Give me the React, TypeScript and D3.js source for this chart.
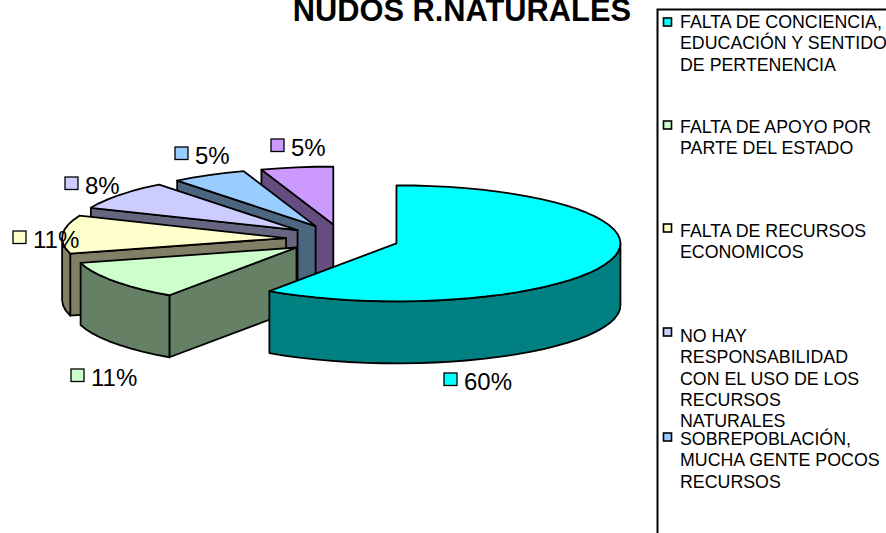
import React from "react";
import * as d3 from "d3";

const sliceValues = [59.6, 11.1, 10.6, 8.1, 5.4, 5.2];
const sliceColors = ["#00FFFF", "#CCFFCC", "#FFFFCC", "#CCCCFF", "#99CCFF", "#CC99FF"];
const labelAnchors: [number, number][] = [[444, 373], [71, 369], [13, 231], [65, 177], [175, 147], [271, 139]];
const legendLines = [
  ["FALTA DE CONCIENCIA,", "EDUCACIÓN Y SENTIDO", "DE PERTENENCIA"],
  ["FALTA DE APOYO POR", "PARTE DEL ESTADO"],
  ["FALTA DE RECURSOS", "ECONOMICOS"],
  ["NO HAY", "RESPONSABILIDAD", "CON EL USO DE LOS", "RECURSOS", "NATURALES"],
  ["SOBREPOBLACIÓN,", "MUCHA GENTE POCOS", "RECURSOS"],
];
const legendTops = [28, 133, 237, 342, 445];
const legendMarkers = [22, 125, 228, 332, 437];
const titleText = "NUDOS R.NATURALES";

const font = "'Liberation Sans', Arial, sans-serif";
const rx = 224, ry = 58, depth = 62, explode = 56.5 / 224;
const x = d3.scaleLinear().domain([-1, 1]).range([342.5 - rx, 342.5 + rx]);
const y = d3.scaleLinear().domain([-1, 1]).range([239 - ry, 239 + ry]);
const lineGen = d3.line<[number, number]>().x(d => d[0]).y(d => d[1]);

const arcs = d3.pie<number>().sort(null).value(d => d)(sliceValues);

function pt(a: number, mid: number, r: number, dz = 0): [number, number] {
  return [
    x(explode * Math.sin(mid) + r * Math.sin(a)),
    y(-explode * Math.cos(mid) - r * Math.cos(a)) + dz,
  ];
}
function edge(a0: number, a1: number, mid: number, dz = 0): [number, number][] {
  const n = Math.max(2, Math.round(Math.abs(a1 - a0) / (Math.PI / 40)));
  return d3.range(n + 1).map(i => pt(a0 + ((a1 - a0) * i) / n, mid, 1, dz));
}

function Slice({ i }: { i: number }) {
  const { startAngle: a0, endAngle: a1 } = arcs[i];
  const mid = (a0 + a1) / 2;
  const dark = d3.rgb(sliceColors[i]);
  const wall = d3.rgb(dark.r * 0.5, dark.g * 0.5, dark.b * 0.5).formatHex();
  const common = { stroke: "#000", strokeWidth: 1.8, strokeLinejoin: "round" as const };
  const apex = pt(0, mid, 0);
  const apexLow = pt(0, mid, 0, depth);
  const parts: React.ReactNode[] = [];
  if (a0 > Math.PI) {
    const s = pt(a0, mid, 1);
    const sLow = pt(a0, mid, 1, depth);
    parts.push(<path key="cut" d={lineGen([apex, s, sLow, apexLow])! + "Z"} fill={wall} {...common} />);
  }
  const fa0 = Math.max(a0, Math.PI / 2);
  const fa1 = Math.min(a1, (3 * Math.PI) / 2);
  if (fa1 > fa0) {
    const top = edge(fa0, fa1, mid);
    const low = edge(fa1, fa0, mid, depth);
    parts.push(<path key="rim" d={lineGen([...top, ...low])! + "Z"} fill={wall} {...common} />);
  }
  parts.push(<path key="top" d={lineGen([apex, ...edge(a0, a1, mid)])! + "Z"} fill={sliceColors[i]} {...common} />);
  return <g>{parts}</g>;
}

export default function App() {
  return (
    <svg width={886} height={533} style={{ position: "absolute", left: 0, top: 0, background: "#fff" }} fontFamily={font}>
      <text x={631} y={21} textAnchor="end" fontSize={30.8} fontWeight="bold" fill="#000">{titleText}</text>
      {d3.range(sliceValues.length - 1, -1, -1).map(i => <Slice key={i} i={i} />)}
      {sliceValues.map((v, i) => {
        const [mx, my] = labelAnchors[i];
        return (
          <g key={i}>
            <rect x={mx} y={my} width={13} height={12.5} fill={sliceColors[i]} stroke="#000" strokeWidth={1.3} />
            <text x={mx + 20} y={my + 17} fontSize={24} fill="#000">{Math.round(v)}%</text>
          </g>
        );
      })}
      <path d="M886,9.5H657.5V533" fill="none" stroke="#000" strokeWidth={2} />
      {legendLines.map((lines, i) => (
        <g key={i}>
          <rect x={663.5} y={legendMarkers[i] - 4} width={8} height={8} fill={sliceColors[i]} stroke="#000" strokeWidth={1.6} />
          {lines.map((t, j) => (
            <text key={j} x={680} y={legendTops[i] + j * 21.3} fontSize={17.8} fill="#000">{t}</text>
          ))}
        </g>
      ))}
    </svg>
  );
}
